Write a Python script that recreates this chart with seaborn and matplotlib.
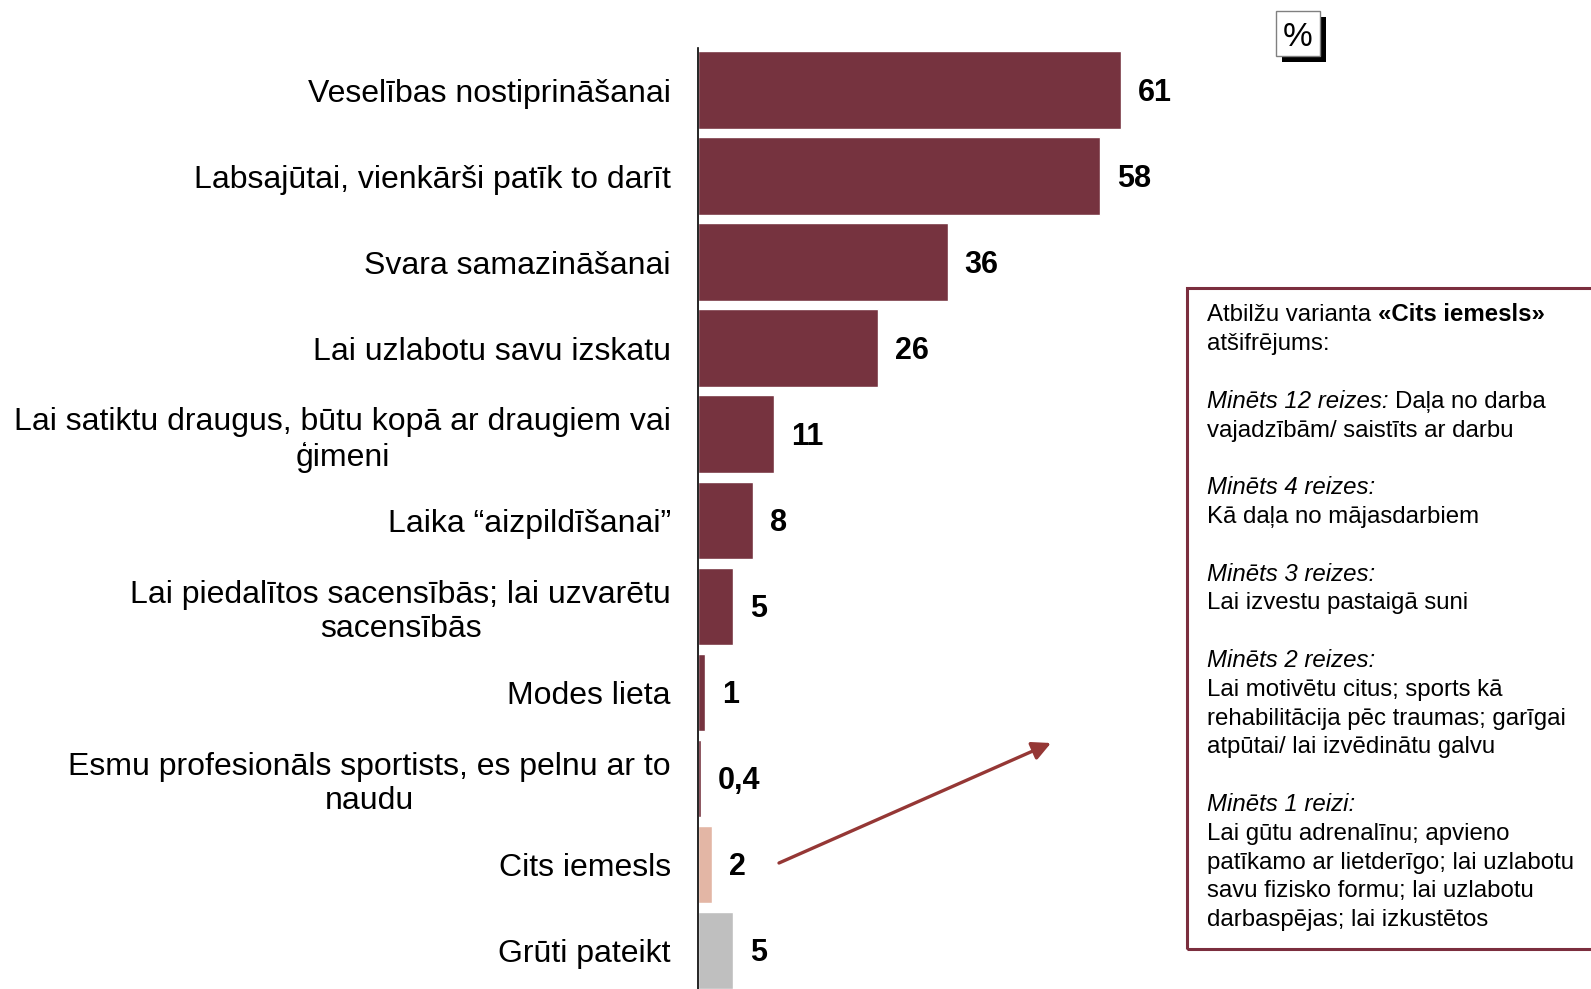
import matplotlib
matplotlib.use("Agg")
import matplotlib.pyplot as plt
import seaborn as sns
import pandas as pd
from matplotlib.patches import Rectangle

# ---- data ----
categories = [
    "Veselības nostiprināšanai",
    "Labsajūtai, vienkārši patīk to darīt",
    "Svara samazināšanai",
    "Lai uzlabotu savu izskatu",
    "Lai satiktu draugus, būtu kopā ar draugiem vai\nģimeni",
    "Laika “aizpildīšanai”",
    "Lai piedalītos sacensībās; lai uzvarētu\nsacensībās",
    "Modes lieta",
    "Esmu profesionāls sportists, es pelnu ar to\nnaudu",
    "Cits iemesls",
    "Grūti pateikt",
]
values = [61, 58, 36, 26, 11, 8, 5, 1, 0.4, 2, 5]
bar_colors = ["#76333F"] * 9 + ["#E3B6A5", "#BFBFBF"]

box_lines = [
    [("Atbilžu varianta", "normal"), ("«Cits iemesls»", "bold")],
    [("atšifrējums:", "normal")],
    [],
    [("Minēts 12 reizes:", "italic"), ("Daļa no darba", "normal")],
    [("vajadzībām/ saistīts ar darbu", "normal")],
    [],
    [("Minēts 4 reizes:", "italic")],
    [("Kā daļa no mājasdarbiem", "normal")],
    [],
    [("Minēts 3 reizes:", "italic")],
    [("Lai izvestu pastaigā suni", "normal")],
    [],
    [("Minēts 2 reizes:", "italic")],
    [("Lai motivētu citus; sports kā", "normal")],
    [("rehabilitācija pēc traumas; garīgai", "normal")],
    [("atpūtai/ lai izvēdinātu galvu", "normal")],
    [],
    [("Minēts 1 reizi:", "italic")],
    [("Lai gūtu adrenalīnu; apvieno", "normal")],
    [("patīkamo ar lietderīgo; lai uzlabotu", "normal")],
    [("savu fizisko formu; lai uzlabotu", "normal")],
    [("darbaspējas; lai izkustētos", "normal")],
]

# ---- figure ----
sns.set_style("white")
plt.rcParams["font.family"] = ["Liberation Sans", "DejaVu Sans"]
plt.rcParams["text.color"] = "black"

W, H = 1591, 989
fig = plt.figure(figsize=(W / 100, H / 100), dpi=100)

ax_left, ax_top = 698, 48
ax = fig.add_axes([ax_left / W, 0, (W - ax_left) / W, (H - ax_top) / H])

df = pd.DataFrame({"cat": categories, "val": values})
sns.barplot(data=df, x="val", y="cat", hue="cat", palette=bar_colors,
            width=0.9, saturation=1, legend=False, ax=ax, orient="h")

px_per_unit = 423 / 61
ax.set_xlim(0, (W - ax_left) / px_per_unit)
ax.set_ylim(10.45, -0.49)

for s in ["top", "right", "bottom"]:
    ax.spines[s].set_visible(False)
ax.spines["left"].set_color("black")
ax.spines["left"].set_linewidth(1.2)
ax.set_xticks([])
ax.set_xlabel("")
ax.set_ylabel("")
ax.set_yticks(range(len(categories)))
ax.set_yticklabels(categories, fontsize=23, multialignment="center",
                   linespacing=1.2, color="black")
ax.tick_params(axis="y", length=0, pad=19.5, labelcolor="black")

for i, v in enumerate(values):
    lbl = ("%g" % v).replace(".", ",")
    ax.annotate(lbl, xy=(v, i), xytext=(12.2, -2.3), textcoords="offset points",
                ha="left", va="center", fontsize=22, fontweight="bold",
                color="black", annotation_clip=False)

# ---- arrow ----
def fx(px):
    return px / W

def fy(py):
    return 1 - py / H

ax.annotate("", xy=(fx(1051), fy(743)), xytext=(fx(779), fy(863)),
            xycoords="figure fraction", textcoords="figure fraction",
            arrowprops=dict(arrowstyle="-|>", color="#953735", lw=2.4,
                            mutation_scale=28, shrinkA=0, shrinkB=0),
            annotation_clip=False)

# ---- annotation box ----
fig.add_artist(Rectangle((fx(1187), fy(949)), fx(1600) - fx(1187),
                         fy(288) - fy(949), transform=fig.transFigure,
                         fill=False, edgecolor="#7B2E3E", lw=2.2))

box_fs = 17.3
base0, step = 321.5, 28.8
for i, line in enumerate(box_lines):
    y = fy(base0 + i * step)
    prev = None
    for text, style in line:
        kw = dict(fontsize=box_fs, color="black", va="baseline", ha="left")
        if style == "bold":
            kw["fontweight"] = "bold"
        elif style == "italic":
            kw["fontstyle"] = "italic"
        if prev is None:
            prev = fig.text(fx(1207), y, text, **kw)
        else:
            prev = ax.annotate(text, xy=(1, y), xycoords=(prev, "figure fraction"),
                               xytext=(4.8, 0), textcoords="offset points",
                               annotation_clip=False, **kw)

# ---- % box ----
fig.add_artist(Rectangle((fx(1282), fy(62)), fx(1326) - fx(1282),
                         fy(17) - fy(62), transform=fig.transFigure,
                         facecolor="black", edgecolor="black", lw=0))
fig.add_artist(Rectangle((fx(1276), fy(56)), fx(1320) - fx(1276),
                         fy(11) - fy(56), transform=fig.transFigure,
                         facecolor="white", edgecolor="#808080", lw=1.0))
fig.text(fx(1298), fy(46), "%", fontsize=24, ha="center", va="baseline")

fig.savefig("out.png", dpi=100)
